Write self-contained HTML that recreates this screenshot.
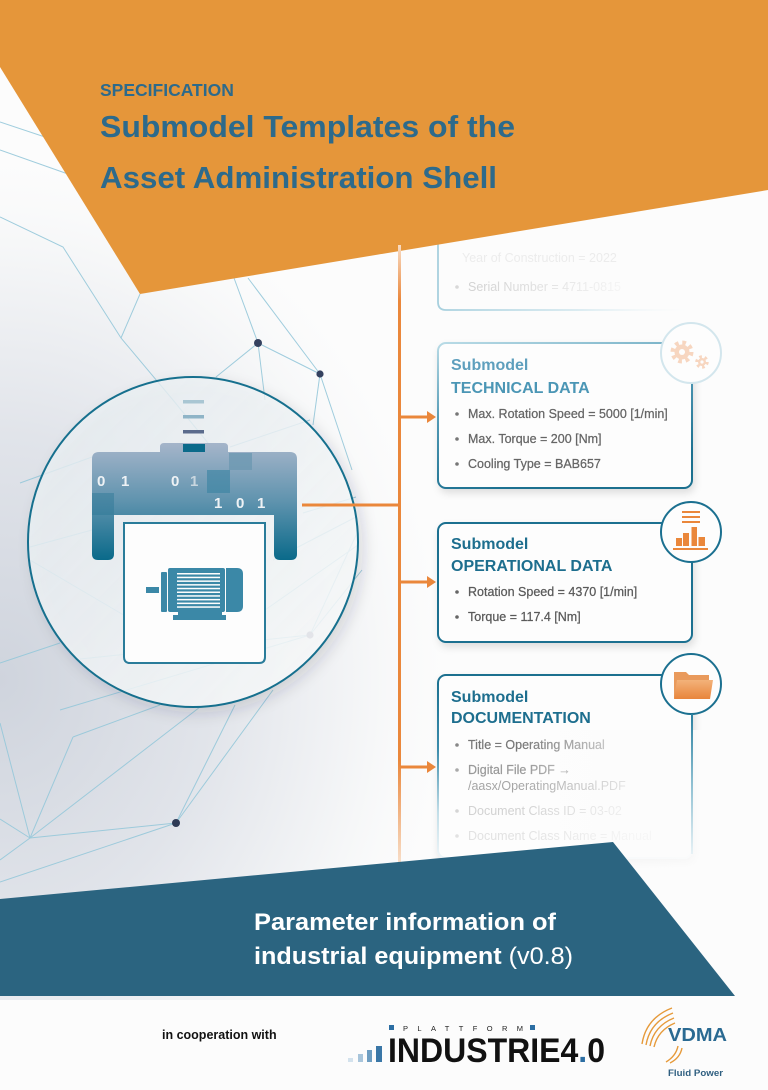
<!DOCTYPE html>
<html><head><meta charset="utf-8">
<style>
html,body{margin:0;padding:0;width:768px;height:1090px;overflow:hidden;background:#fcfcfc}
svg{display:block}
text{font-family:"Liberation Sans",sans-serif}
</style></head><body>
<svg width="768" height="1090" viewBox="0 0 768 1090" xmlns="http://www.w3.org/2000/svg">
<defs>
 <radialGradient id="bgR" gradientUnits="userSpaceOnUse" cx="0" cy="680" r="520" gradientTransform="translate(0,680) scale(0.9,1.05) translate(0,-680)">
  <stop offset="0" stop-color="#cfd4dd"/>
  <stop offset="0.45" stop-color="#e1e4ea"/>
  <stop offset="0.8" stop-color="#f6f7f8"/>
  <stop offset="1" stop-color="#fcfcfc" stop-opacity="0"/>
 </radialGradient>
 <linearGradient id="circF" x1="0" y1="0" x2="1" y2="1">
  <stop offset="0" stop-color="#e6edf1" stop-opacity="0.75"/>
  <stop offset="1" stop-color="#fbfcfc" stop-opacity="0.85"/>
 </linearGradient>
 <linearGradient id="shell" gradientUnits="userSpaceOnUse" x1="0" y1="443" x2="0" y2="560">
  <stop offset="0" stop-color="#a5b5ca"/>
  <stop offset="0.5" stop-color="#5f93ae"/>
  <stop offset="1" stop-color="#0a6a8a"/>
 </linearGradient>
 <linearGradient id="oline" gradientUnits="userSpaceOnUse" x1="0" y1="245" x2="0" y2="865">
  <stop offset="0" stop-color="#f8dcc4"/>
  <stop offset="0.09" stop-color="#ea873b"/>
  <stop offset="0.83" stop-color="#ea873b"/>
  <stop offset="1" stop-color="#f8e0cc"/>
 </linearGradient>
 <linearGradient id="techS" x1="0" y1="0" x2="0.35" y2="1">
  <stop offset="0" stop-color="#b9dbe6"/>
  <stop offset="0.5" stop-color="#4e97b3"/>
  <stop offset="1" stop-color="#1b6f8f"/>
 </linearGradient>
 <linearGradient id="docS" x1="0" y1="0" x2="0" y2="1">
  <stop offset="0" stop-color="#1b6f8f"/>
  <stop offset="0.4" stop-color="#3a8bab"/>
  <stop offset="0.75" stop-color="#c2dee8"/>
  <stop offset="1" stop-color="#eef5f8"/>
 </linearGradient>
 <linearGradient id="docR" gradientUnits="userSpaceOnUse" x1="0" y1="714" x2="0" y2="855">
  <stop offset="0" stop-color="#2b80a0"/>
  <stop offset="0.5" stop-color="#8fc0d2"/>
  <stop offset="1" stop-color="#e8f2f6"/>
 </linearGradient>
 <linearGradient id="topS" gradientUnits="userSpaceOnUse" x1="438" y1="0" x2="700" y2="0">
  <stop offset="0" stop-color="#a7d0de"/>
  <stop offset="0.55" stop-color="#d8eaf0"/>
  <stop offset="1" stop-color="#fcfcfc" stop-opacity="0"/>
 </linearGradient>
 <linearGradient id="topT" gradientUnits="userSpaceOnUse" x1="468" y1="0" x2="640" y2="0">
  <stop offset="0" stop-color="#d2d2d2"/>
  <stop offset="0.5" stop-color="#e4e4e4"/>
  <stop offset="1" stop-color="#fafafa"/>
 </linearGradient>
 <linearGradient id="haze" x1="0" y1="0" x2="1" y2="0">
  <stop offset="0" stop-color="#fcfcfc" stop-opacity="0"/>
  <stop offset="0.45" stop-color="#fcfcfc" stop-opacity="0.75"/>
  <stop offset="1" stop-color="#fcfcfc" stop-opacity="0.95"/>
 </linearGradient>
 <linearGradient id="folder" x1="0" y1="0" x2="0" y2="1">
  <stop offset="0" stop-color="#f3b27a"/>
  <stop offset="1" stop-color="#e8853c"/>
 </linearGradient>
 <filter id="sh" x="-10%" y="-10%" width="130%" height="140%">
  <feDropShadow dx="2" dy="4" stdDeviation="4" flood-color="#000" flood-opacity="0.12"/>
 </filter>
 <filter id="blur3"><feGaussianBlur stdDeviation="3"/></filter>
 <filter id="csh" x="-10%" y="-10%" width="130%" height="130%">
  <feDropShadow dx="5" dy="6" stdDeviation="7" flood-color="#334" flood-opacity="0.16"/>
 </filter>
</defs>

<!-- background -->
<rect width="768" height="1090" fill="#fcfcfc"/>
<rect width="768" height="1000" fill="url(#bgR)"/>

<!-- network lines -->
<g stroke="#96c8da" stroke-width="1" fill="none" opacity="0.9">
 <polyline points="0,217 63,247 121,338 173,400 230,470"/>
 <line x1="121" y1="338" x2="140" y2="294"/>
 <line x1="0" y1="122" x2="60" y2="142"/>
 <line x1="0" y1="150" x2="68" y2="174"/>
 <line x1="258" y1="343" x2="234" y2="278"/>
 <line x1="258" y1="343" x2="320" y2="374"/>
 <line x1="258" y1="343" x2="216" y2="377"/>
 <line x1="258" y1="343" x2="265" y2="400"/>
 <line x1="320" y1="374" x2="248" y2="278"/>
 <line x1="320" y1="374" x2="313" y2="425"/>
 <line x1="320" y1="374" x2="352" y2="470"/>
 <line x1="230" y1="447" x2="310" y2="420"/>
 <line x1="303" y1="513" x2="356" y2="497"/>
 <line x1="273" y1="560" x2="356" y2="517"/>
 <line x1="265" y1="610" x2="358" y2="545"/>
 <line x1="20" y1="483" x2="92" y2="457"/>
 <line x1="30" y1="547" x2="92" y2="530"/>
 <line x1="30" y1="560" x2="127" y2="617"/>
 <line x1="310" y1="635" x2="357" y2="533"/>
 <line x1="310" y1="635" x2="362" y2="570"/>
 <line x1="310" y1="635" x2="80" y2="659"/>
 <line x1="310" y1="635" x2="60" y2="710"/>
 <line x1="0" y1="663" x2="60" y2="643"/>
 <line x1="0" y1="723" x2="30" y2="838"/>
 <line x1="73" y1="737" x2="160" y2="705"/>
 <line x1="73" y1="737" x2="30" y2="838"/>
 <line x1="30" y1="838" x2="200" y2="707"/>
 <line x1="30" y1="838" x2="176" y2="823"/>
 <line x1="0" y1="819" x2="30" y2="838"/>
 <line x1="0" y1="860" x2="30" y2="838"/>
 <line x1="0" y1="882" x2="176" y2="823"/>
 <line x1="176" y1="823" x2="235" y2="705"/>
 <line x1="176" y1="823" x2="273" y2="690"/>
</g>
<g>
 <circle cx="258" cy="343" r="4" fill="#34415f"/>
 <circle cx="320" cy="374" r="3.6" fill="#34415f"/>
 <circle cx="310" cy="635" r="3.6" fill="#777c94"/>
 <circle cx="176" cy="823" r="4" fill="#2e3a55"/>
</g>

<!-- top faded box (mostly under banner) -->
<path d="M446,316 L640,316" stroke="#cfd6dc" stroke-width="4" filter="url(#blur3)" opacity="0.6"/>
<path d="M438,150 L438,302 Q438,310 446,310 L700,310" fill="none" stroke="url(#topS)" stroke-width="1.8"/>
<text x="462" y="262" font-size="12.5" fill="#ececec">Year of Construction = 2022</text>
<circle cx="457" cy="287" r="1.8" fill="#d8d8d8"/>
<text x="468" y="291" font-size="12.5" fill="url(#topT)">Serial Number = 4711-0815</text>

<!-- orange banner -->
<polygon points="0,0 768,0 768,190 140,294 0,67" fill="#e5963a"/>
<text x="100" y="96" font-size="17.5" font-weight="bold" fill="#2d6a8b">SPECIFICATION</text>
<text x="100" y="137" font-size="31" font-weight="bold" fill="#2d6a8b" textLength="415" lengthAdjust="spacingAndGlyphs">Submodel Templates of the</text>
<text x="100" y="188" font-size="31" font-weight="bold" fill="#2d6a8b" textLength="397" lengthAdjust="spacingAndGlyphs">Asset Administration Shell</text>

<!-- orange vertical + arrows -->
<rect x="398" y="245" width="3" height="620" fill="url(#oline)"/>
<g fill="#ea873b">
 <rect x="400" y="415.5" width="28" height="3"/><polygon points="427,411 436,417 427,423"/>
 <rect x="400" y="580.5" width="28" height="3"/><polygon points="427,576 436,582 427,588"/>
 <rect x="400" y="765.5" width="28" height="3"/><polygon points="427,761 436,767 427,773"/>
</g>

<!-- big circle -->
<circle cx="193" cy="542" r="165" fill="url(#circF)" stroke="#17708e" stroke-width="2" filter="url(#csh)"/>
<line x1="302" y1="505" x2="400" y2="505" stroke="#ea873b" stroke-width="3"/>

<!-- shell -->
<rect x="183" y="400" width="21" height="3.5" fill="#a9c6d3"/>
<rect x="183" y="415" width="21" height="3.5" fill="#8fb4c7"/>
<rect x="183" y="430" width="21" height="3.5" fill="#5b6b8c"/>
<path d="M92,459 Q92,452 99,452 L160,452 L160,447 Q160,443 164,443 L224,443 Q228,443 228,447 L228,452 L290,452 Q297,452 297,459 L297,554 Q297,560 291,560 L280,560 Q274,560 274,554 L274,515 L114,515 L114,554 Q114,560 108,560 L98,560 Q92,560 92,554 Z" fill="url(#shell)"/>
<rect x="183" y="444" width="22" height="8" fill="#0b6a8a"/>
<rect x="229" y="453" width="23" height="17" fill="#6d98b1" opacity="0.8"/>
<rect x="207" y="470" width="23" height="23" fill="#3c84a3" opacity="0.65"/>
<rect x="92" y="493" width="22" height="22" fill="#2b7694" opacity="0.45"/>
<g font-family="Liberation Mono, monospace" font-weight="bold" font-size="15" fill="#eef2f5">
 <text x="97" y="486">0</text><text x="121" y="486">1</text>
 <text x="171" y="486">0</text><text x="190" y="486" fill="#c9d6df">1</text>
 <text x="214" y="508">1</text><text x="236" y="508">0</text><text x="257" y="508">1</text>
</g>

<!-- motor box -->
<path d="M124,523 L265,523 L265,657 Q265,663 259,663 L130,663 Q124,663 124,657 Z" fill="#fdfdfd" stroke="#2a7c9a" stroke-width="2"/>
<g fill="#3b88a7">
 <rect x="146" y="587" width="13" height="6"/>
 <rect x="161" y="572" width="6" height="40" rx="1"/>
 <rect x="168" y="568" width="57" height="44" rx="2"/>
 <path d="M226,568 L237,568 Q243,568 243,574 L243,606 Q243,612 237,612 L226,612 Z"/>
 <rect x="178" y="612" width="44" height="3"/>
 <rect x="173" y="615" width="53" height="5"/>
</g>
<g fill="#fdfdfd">
 <rect x="177" y="573" width="43" height="1.5"/>
 <rect x="177" y="576.7" width="43" height="1.5"/>
 <rect x="177" y="580.4" width="43" height="1.5"/>
 <rect x="177" y="584.1" width="43" height="1.5"/>
 <rect x="177" y="587.8" width="43" height="1.5"/>
 <rect x="177" y="591.5" width="43" height="1.5"/>
 <rect x="177" y="595.2" width="43" height="1.5"/>
 <rect x="177" y="598.9" width="43" height="1.5"/>
 <rect x="177" y="602.6" width="43" height="1.5"/>
 <rect x="177" y="606.3" width="43" height="1.5"/>
</g>

<!-- technical data box -->
<rect x="438" y="343" width="254" height="145" rx="8" fill="#fdfdfd" stroke="url(#techS)" stroke-width="2" filter="url(#sh)"/>
<circle cx="691" cy="353" r="30" fill="#fdfdfd" stroke="#d3e6ed" stroke-width="2"/>
<g opacity="0.45">
 <circle cx="682" cy="352" r="9" fill="none" stroke="#f0a878" stroke-width="5" stroke-dasharray="3.5 3.57"/>
 <circle cx="682" cy="352" r="7.5" fill="#f0a878"/>
 <circle cx="682" cy="352" r="3" fill="#fff"/>
 <circle cx="702" cy="362" r="5" fill="none" stroke="#f0a878" stroke-width="3.5" stroke-dasharray="2.5 2.7"/>
 <circle cx="702" cy="362" r="4" fill="#f0a878"/>
 <circle cx="702" cy="362" r="1.6" fill="#fff"/>
</g>
<text x="451" y="370" font-size="16" font-weight="bold" fill="#5e9fbd">Submodel</text>
<text x="451" y="393" font-size="16" font-weight="bold" fill="#4b96b5">TECHNICAL DATA</text>
<g font-size="12.5" fill="#666" stroke="#666" stroke-width="0.25">
 <text x="468" y="418">Max. Rotation Speed = 5000 [1/min]</text>
 <text x="468" y="443">Max. Torque = 200 [Nm]</text>
 <text x="468" y="468">Cooling Type = BAB657</text>
</g>
<g fill="#777"><circle cx="457" cy="414" r="1.8"/><circle cx="457" cy="439" r="1.8"/><circle cx="457" cy="464" r="1.8"/></g>

<!-- operational data box -->
<rect x="438" y="523" width="254" height="119" rx="8" fill="#fdfdfd" stroke="#1b7090" stroke-width="2" filter="url(#sh)"/>
<circle cx="691" cy="532" r="30" fill="#fdfdfd" stroke="#1b7090" stroke-width="2"/>
<g fill="#ea873b">
 <rect x="682" y="511" width="18" height="2"/>
 <rect x="682" y="516" width="18" height="2"/>
 <rect x="682" y="521" width="18" height="2"/>
 <rect x="676" y="538" width="6" height="8"/>
 <rect x="683" y="533" width="6" height="13"/>
 <rect x="691.5" y="527" width="5.5" height="19"/>
 <rect x="698.5" y="537" width="6.5" height="9"/>
 <rect x="673" y="548" width="35" height="2"/>
</g>
<text x="451" y="549" font-size="16" font-weight="bold" fill="#1d6e8e">Submodel</text>
<text x="451" y="571" font-size="16" font-weight="bold" fill="#1d6e8e">OPERATIONAL DATA</text>
<g font-size="12.5" fill="#5a5a5a" stroke="#5a5a5a" stroke-width="0.25">
 <text x="468" y="596">Rotation Speed = 4370 [1/min]</text>
 <text x="468" y="621">Torque = 117.4 [Nm]</text>
</g>
<g fill="#666"><circle cx="457" cy="592" r="1.8"/><circle cx="457" cy="617" r="1.8"/></g>

<!-- documentation box -->
<rect x="438" y="675" width="254" height="183" rx="8" fill="#fdfdfd" stroke="url(#docS)" stroke-width="2" filter="url(#sh)"/>
<circle cx="691" cy="684" r="30" fill="#fdfdfd" stroke="#1b7090" stroke-width="2"/>
<path d="M674,672 L686,672 L689,675 L709,675 L709,698 L674,698 Z" fill="#e99a5c"/>
<path d="M677,680 L713,680 L710,699 L674,699 Z" fill="url(#folder)"/>
<text x="451" y="702" font-size="16" font-weight="bold" fill="#1d6e8e">Submodel</text>
<text x="451" y="723" font-size="16" font-weight="bold" fill="#1d6e8e">DOCUMENTATION</text>
<g font-size="12.5">
 <text x="468" y="749" fill="#777" stroke="#777" stroke-width="0.2">Title = Operating Manual</text>
 <text x="468" y="774" fill="#999" stroke="#999" stroke-width="0.2">Digital File PDF →</text>
 <text x="468" y="790" fill="#a5a5a5">/aasx/OperatingManual.PDF</text>
 <text x="468" y="815" fill="#d2d2d2">Document Class ID = 03-02</text>
 <text x="468" y="840" fill="#e2e2e2">Document Class Name = Manual</text>
</g>
<g><circle cx="457" cy="745" r="1.8" fill="#888"/><circle cx="457" cy="770" r="1.8" fill="#aaa"/><circle cx="457" cy="811" r="1.8" fill="#d5d5d5"/><circle cx="457" cy="836" r="1.8" fill="#e2e2e2"/></g>
<rect x="520" y="730" width="248" height="140" fill="url(#haze)"/>
<rect x="691" y="714" width="2" height="140" fill="url(#docR)"/>

<!-- blue banner -->
<polygon points="0,899 613,842 735,996 0,996" fill="#2b6480"/>
<text x="254" y="930" font-size="24.5" font-weight="bold" fill="#ffffff" textLength="302" lengthAdjust="spacingAndGlyphs">Parameter information of</text>
<text x="254" y="964" font-size="24.5" fill="#ffffff" textLength="319" lengthAdjust="spacingAndGlyphs"><tspan font-weight="bold">industrial equipment </tspan>(v0.8)</text>

<!-- footer -->
<text x="162" y="1039" font-size="12.5" font-weight="bold" fill="#111">in cooperation with</text>
<rect x="348" y="1058" width="5" height="4" fill="#d3e2ed"/>
<rect x="358" y="1054" width="5" height="8" fill="#a8c5db"/>
<rect x="367" y="1050" width="5" height="12" fill="#6d9dc1"/>
<rect x="376" y="1046" width="6" height="16" fill="#3a77a7"/>
<rect x="389" y="1025" width="5" height="5" fill="#2c6ea3"/>
<rect x="530" y="1025" width="5" height="5" fill="#2c6ea3"/>
<text x="403" y="1031" font-size="7.5" fill="#222" textLength="120" lengthAdjust="spacing">PLATTFORM</text>
<text x="388" y="1062" font-size="34" font-weight="bold" fill="#111" textLength="217" lengthAdjust="spacingAndGlyphs">INDUSTRIE4<tspan fill="#2c6ea3">.</tspan>0</text>
<g stroke="#e69a3a" stroke-width="1.4" fill="none">
 <path d="M642,1044 Q646,1018 672,1008"/>
 <path d="M646,1045 Q650,1022 673,1013"/>
 <path d="M650,1046 Q654,1026 674,1018"/>
 <path d="M654,1047 Q658,1030 675,1023"/>
 <path d="M666,1062 Q676,1056 678,1046"/>
 <path d="M670,1063 Q680,1058 682,1048"/>
</g>
<text x="668" y="1041" font-size="18" font-weight="bold" fill="#2a6a92" textLength="59" lengthAdjust="spacingAndGlyphs">VDMA</text>
<text x="668" y="1076" font-size="9.5" font-weight="bold" fill="#2f5f80" textLength="55" lengthAdjust="spacingAndGlyphs">Fluid Power</text>
</svg>
</body></html>
